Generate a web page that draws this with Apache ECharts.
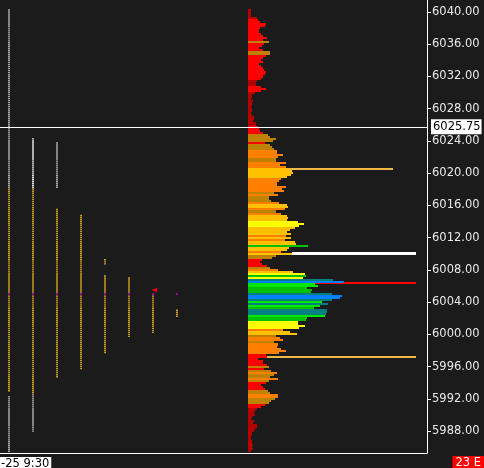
<!DOCTYPE html>
<html>
<head>
<meta charset="utf-8">
<script src="https://cdn.jsdelivr.net/npm/echarts@6/dist/echarts.min.js"></script>
<style>
  html, body { margin: 0; background: #1b1b1b; }
  #chart { width: 484px; height: 468px; }
</style>
</head>
<body>
<div id="chart"></div>
<script>
// price levels of the profile, one row per 0.25 tick, top row first
const topPrice = 6040.25
const tickSize = 0.25
const profileVolume = [
  3, 3, 3, 3, 9, 10, 12, 18, 17, 12, 11, 11, 13, 15, 19, 15, 21, 16, 14, 11,
  15, 22, 22, 18, 15, 13, 15, 11, 13, 15, 16, 18, 17, 15, 13, 9, 8, 8, 13, 18,
  13, 7, 4, 4, 3, 5, 4, 4, 3, 4, 4, 3, 4, 6, 6, 5, 8, 8, 10, 11,
  12, 15, 20, 22, 28, 25, 17, 22, 24, 26, 29, 29, 35, 30, 28, 28, 38, 32, 38, 39,
  44, 45, 43, 39, 33, 31, 29, 29, 38, 34, 36, 26, 30, 21, 21, 23, 31, 39, 40, 37,
  28, 33, 39, 40, 39, 50, 56, 51, 47, 42, 39, 43, 38, 43, 37, 47, 48, 60, 41, 39,
  33, 44, 28, 24, 14, 12, 14, 19, 22, 30, 45, 57, 58, 55, 85, 96, 67, 70, 59, 64,
  63, 84, 94, 92, 84, 74, 80, 72, 66, 79, 79, 78, 77, 59, 58, 50, 50, 57, 51, 35,
  42, 49, 28, 32, 35, 26, 30, 29, 33, 38, 31, 18, 19, 10, 15, 15, 19, 21, 16, 23,
  29, 26, 22, 30, 21, 18, 13, 15, 17, 20, 22, 30, 30, 27, 23, 21, 17, 13, 9, 7,
  6, 7, 4, 3, 6, 5, 9, 9, 7, 6, 4, 4, 3, 3, 4, 4, 5, 4, 5, 3
]
// volume breaks for the heat colours
const volumeBreaks = [10, 20, 29, 39, 50, 58, 67, 78, 90]
const bandColors = ['#b40000', '#ff0000', '#bf8200', '#ff8000', '#ffc000', '#ffff00',
  '#00c000', '#00e800', '#008080', '#0080ff']

// long reference rows: [price, from, to]
const extLines = [
  [6020.5, 39, 145],
  [6010.0, 44, 168],
  [6006.375, 67, 168],
  [5997.25, 19, 168]
]
const extLineColors = ['#f0b848', '#ffffff', '#ff0000', '#f0b848']
const extLineWidths = [2, 3, 2, 2]

// period columns: [column, low, high, kind]
const tpoRanges = [
  [0, 6018.25, 6040.25, 0],
  [0, 5993.0, 6018.0, 2],
  [0, 5985.5, 5992.25, 0],
  [1, 6018.25, 6024.25, 1],
  [1, 5992.75, 6018.0, 2],
  [1, 5988.0, 5992.5, 0],
  [2, 6018.25, 6023.75, 0],
  [2, 5994.75, 6015.5, 2],
  [3, 5995.75, 6014.75, 2],
  [4, 6008.75, 6009.25, 2],
  [4, 5997.75, 6007.25, 2],
  [5, 5999.75, 6007.0, 2],
  [6, 6000.25, 6005.0, 2],
  [7, 6002.25, 6003.0, 2]
]
const tpoColors = ['#a8a8a8', '#e0e0e0', '#c89a22']
const openMarks = [[0, 6005.0], [1, 6005.0], [2, 6005.0], [3, 6005.0], [4, 6005.0], [5, 6005.0], [6, 6005.0], [7, 6005.0]]
const lastMark = [[6.1, 6005.5]]

const priceTicks = [5988, 5992, 5996, 6000, 6004, 6008, 6012, 6016, 6020, 6024, 6028, 6032, 6036, 6040]
const lastPrice = 6025.75
const markPrice = 6005.25

const yMin = 5985.29
const yMax = 6041.49
const font = 'DejaVu Sans'

function bandColor (v) {
  let i = 0
  while (i < volumeBreaks.length && v >= volumeBreaks[i]) i++
  return bandColors[i]
}

function rowRect (api, from, to, price, h) {
  const a = api.coord([from, price + h / 2])
  const b = api.coord([to, price - h / 2])
  const y0 = Math.round(a[1])
  const y1 = Math.max(Math.round(b[1]), y0 + 1)
  return {x: Math.round(a[0]), y: y0, width: Math.round(b[0]) - Math.round(a[0]), height: y1 - y0}
}

function renderProfile (params, api) {
  const v = api.value(0)
  return {
    type: 'rect',
    shape: rowRect(api, 0, v, api.value(1), tickSize),
    style: {fill: bandColor(v)}
  }
}

function renderExt (params, api) {
  const i = params.dataIndex
  const p = api.value(0)
  const a = api.coord([api.value(1), p])
  const b = api.coord([api.value(2), p])
  const w = extLineWidths[i]
  const y = Math.round(a[1] - w / 2)
  return {
    type: 'rect',
    shape: {x: Math.round(a[0]), y: y, width: Math.round(b[0] - a[0]), height: w},
    style: {fill: extLineColors[i]}
  }
}

function renderTpo (params, api) {
  const col = api.value(0)
  const low = api.value(1)
  const high = api.value(2)
  const kind = api.value(3)
  const children = []
  for (let p = low; p <= high + 1e-6; p += tickSize) {
    const pt = api.coord([col, p])
    children.push({
      type: 'rect',
      shape: {x: Math.round(pt[0]), y: pt[1] - 0.75, width: 2, height: 1.4},
      style: {fill: tpoColors[kind]}
    })
  }
  return {type: 'group', children: children}
}

function renderOpen (params, api) {
  const pt = api.coord([api.value(0), api.value(1)])
  return {
    type: 'rect',
    shape: {x: Math.round(pt[0]), y: Math.round(pt[1]) - 1, width: 2, height: 2},
    style: {fill: '#a000a0'}
  }
}

const profileData = profileVolume.map((v, i) => [v, topPrice - i * tickSize])

const markLabel = {
  show: true,
  position: 'end',
  distance: 4,
  formatter: p => p.value.toFixed(2),
  color: '#000',
  backgroundColor: '#fff',
  padding: [2, 1, 1, 2],
  fontFamily: font,
  fontSize: 11.5
}

const chart = echarts.init(document.getElementById('chart'))
chart.setOption({
  backgroundColor: '#1b1b1b',
  animation: false,
  grid: [
    {left: 0, right: 57, top: 0, bottom: 15},
    {left: 248, right: 57, top: 0, bottom: 15}
  ],
  xAxis: [
    {
      gridIndex: 0,
      type: 'value',
      min: -8 / 24,
      max: (427 - 8) / 24,
      axisLine: {show: true, onZero: false, lineStyle: {color: '#fff', width: 1}},
      axisTick: {show: false},
      axisLabel: {show: false},
      splitLine: {show: false}
    },
    {gridIndex: 1, type: 'value', min: 0, max: 179, show: false}
  ],
  yAxis: [
    {
      gridIndex: 0,
      type: 'value',
      position: 'right',
      min: yMin,
      max: yMax,
      axisLine: {show: true, onZero: false, lineStyle: {color: '#fff', width: 1}},
      axisTick: {show: true, length: 4, customValues: priceTicks, lineStyle: {color: '#fff'}},
      axisLabel: {
        customValues: priceTicks,
        formatter: v => v.toFixed(2),
        color: '#e8e8e8',
        fontFamily: font,
        fontSize: 11.5,
        margin: 5
      },
      splitLine: {show: false}
    },
    {gridIndex: 1, type: 'value', min: yMin, max: yMax, show: false}
  ],
  series: [
    {
      type: 'custom',
      xAxisIndex: 1,
      yAxisIndex: 1,
      z: 1,
      renderItem: renderExt,
      encode: {x: [1, 2], y: 0},
      data: extLines
    },
    {
      type: 'custom',
      xAxisIndex: 1,
      yAxisIndex: 1,
      z: 2,
      renderItem: renderProfile,
      encode: {x: 0, y: 1},
      data: profileData
    },
    {
      type: 'custom',
      xAxisIndex: 0,
      yAxisIndex: 0,
      z: 3,
      renderItem: renderTpo,
      encode: {x: 0, y: [1, 2]},
      data: tpoRanges,
      markLine: {
        silent: true,
        symbol: ['none', 'none'],
        data: [
          {yAxis: lastPrice, lineStyle: {color: '#fff', width: 1, type: 'solid'}, label: markLabel},
          {yAxis: markPrice, lineStyle: {opacity: 0}, label: markLabel}
        ]
      }
    },
    {
      type: 'custom',
      xAxisIndex: 0,
      yAxisIndex: 0,
      z: 4,
      renderItem: renderOpen,
      data: openMarks
    },
    {
      type: 'scatter',
      xAxisIndex: 0,
      yAxisIndex: 0,
      z: 5,
      symbol: 'triangle',
      symbolRotate: 90,
      symbolSize: [5, 6],
      itemStyle: {color: '#ff0000'},
      data: lastMark
    }
  ],
  graphic: [
    {
      type: 'text',
      left: 0,
      top: 457,
      style: {text: '-25 9:30', fill: '#000', backgroundColor: '#fff', padding: [1, 2, 0, 1], font: '11.5px "DejaVu Sans"'}
    },
    {
      type: 'text',
      right: 0,
      top: 456,
      style: {text: '23 E', fill: '#fff', backgroundColor: '#ff0000', padding: [1, 3, 0, 3], font: '11.5px "DejaVu Sans"'}
    }
  ]
})
</script>
</body>
</html>
